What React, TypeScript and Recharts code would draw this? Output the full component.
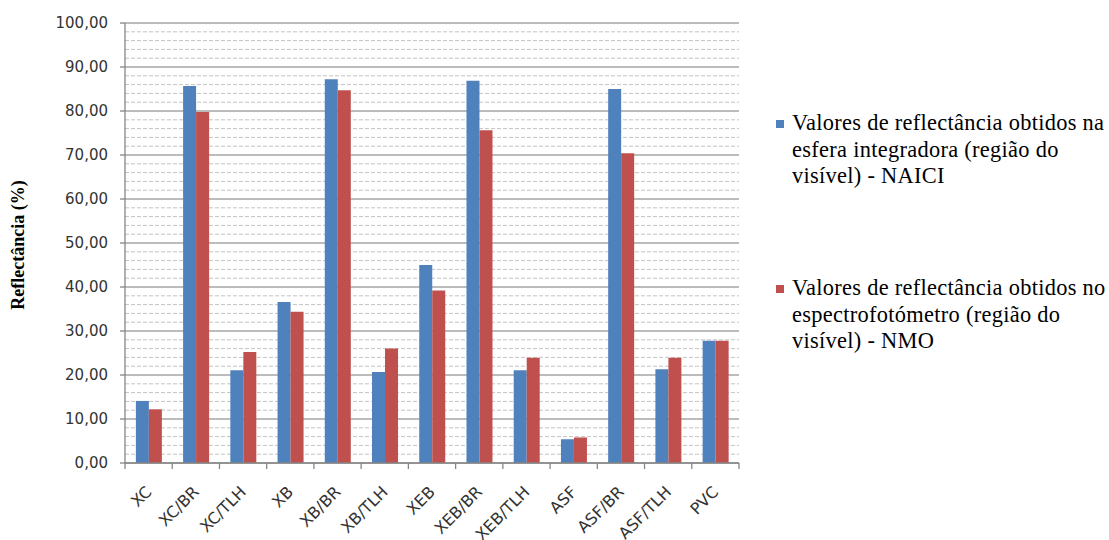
import React from 'react';
import { BarChart, Bar, XAxis, YAxis, CartesianGrid, Label } from 'recharts';

const categories = ['XC', 'XC/BR', 'XC/TLH', 'XB', 'XB/BR', 'XB/TLH', 'XEB', 'XEB/BR', 'XEB/TLH', 'ASF', 'ASF/BR', 'ASF/TLH', 'PVC'];
const naiciValues = [14.1, 85.7, 21.1, 36.6, 87.2, 20.7, 45.0, 86.9, 21.1, 5.4, 85.0, 21.3, 27.8];
const nmoValues = [12.2, 79.8, 25.2, 34.4, 84.7, 26.0, 39.2, 75.6, 23.9, 5.8, 70.4, 23.9, 27.8];
const yTicks = [0, 10, 20, 30, 40, 50, 60, 70, 80, 90, 100];
const naiciLabel = ['Valores de reflectância obtidos na', 'esfera integradora (região do', 'visível) - NAICI'];
const nmoLabel = ['Valores de reflectância obtidos no', 'espectrofotómetro (região do', 'visível) - NMO'];
const yLabel = 'Reflectância (%)';

const BLUE = '#4F81BD';
const RED = '#C0504D';

const data = categories.map((c, i) => ({ name: c, naici: naiciValues[i], nmo: nmoValues[i] }));
const minorTicks: number[] = [];
for (let v = 2; v < 100; v += 2) if (v % 10 !== 0) minorTicks.push(v);

const W = 1109;
const H = 540;
const X_H = 77;
const Y_W = 60;
const M = { top: 23, right: 370, bottom: 0, left: 65 };
const plotW = W - M.left - Y_W - M.right;
const bw = plotW / categories.length;

const fmt = (v: number) => v.toFixed(2).replace('.', ',');

const XTick = (props: any) => {
  const { x, y, payload, index } = props;
  const last = index === categories.length - 1;
  return (
    <g>
      <line x1={x - bw / 2} y1={y} x2={x - bw / 2} y2={y + 6} stroke="#868686" strokeWidth={1.3} />
      {last && <line x1={x + bw / 2} y1={y} x2={x + bw / 2} y2={y + 6} stroke="#868686" strokeWidth={1.3} />}
      <g transform={`translate(${x + 4},${y + 30})`}>
        <text transform="rotate(-45)" textAnchor="end" fill="#333" fontFamily="DejaVu Sans" fontSize={16}>
          {payload.value}
        </text>
      </g>
    </g>
  );
};

const legendEntries = [
  { color: BLUE, lines: naiciLabel, top: 110 },
  { color: RED, lines: nmoLabel, top: 275 },
];

export default function App() {
  return (
    <div style={{ position: 'absolute', left: 0, top: 0, width: W, height: H, background: '#fff' }}>
      <BarChart width={W} height={H} data={data} margin={M} barCategoryGap="23%" barGap={0}>
        <CartesianGrid horizontalValues={minorTicks} vertical={false} stroke="#c4c4c4" strokeDasharray="4 2" />
        <CartesianGrid vertical={false} stroke="#a6a6a6" strokeWidth={1.3} />
        <XAxis
          dataKey="name"
          interval={0}
          tickSize={0}
          tickMargin={0}
          tick={<XTick />}
          axisLine={{ stroke: '#868686', strokeWidth: 1.3 }}
          tickLine={false}
          height={X_H}
        />
        <YAxis
          width={Y_W}
          domain={[0, 100]}
          ticks={yTicks}
          interval={0}
          tickFormatter={fmt}
          tickSize={5}
          tickMargin={12}
          axisLine={{ stroke: '#868686', strokeWidth: 1.3 }}
          tickLine={{ stroke: '#868686', strokeWidth: 1.3 }}
          tick={{ fill: '#333', fontFamily: 'DejaVu Sans', fontSize: 15 }}
        >
          <Label
            content={() => (
              <text x={24} y={245} transform="rotate(-90, 24, 245)" textAnchor="middle" fontFamily='"Liberation Serif", serif' fontWeight="bold" fontSize={18} fill="#000">
                {yLabel}
              </text>
            )}
          />
        </YAxis>
        <Bar dataKey="naici" name={naiciLabel.join(' ')} fill={BLUE} isAnimationActive={false} />
        <Bar dataKey="nmo" name={nmoLabel.join(' ')} fill={RED} isAnimationActive={false} />
      </BarChart>
      {legendEntries.map((e, i) => (
        <div
          key={i}
          style={{
            position: 'absolute',
            left: 776,
            top: e.top,
            fontFamily: '"Liberation Serif", "Times New Roman", serif',
            fontSize: 22.4,
            lineHeight: '26.5px',
            color: '#000',
            letterSpacing: 0.3,
          }}
        >
          <div style={{ position: 'absolute', left: 0, top: 10, width: 8, height: 8, background: e.color }} />
          <div style={{ marginLeft: 16, whiteSpace: 'nowrap' }}>
            {e.lines.map((l, j) => (
              <div key={j}>{l}</div>
            ))}
          </div>
        </div>
      ))}
    </div>
  );
}
